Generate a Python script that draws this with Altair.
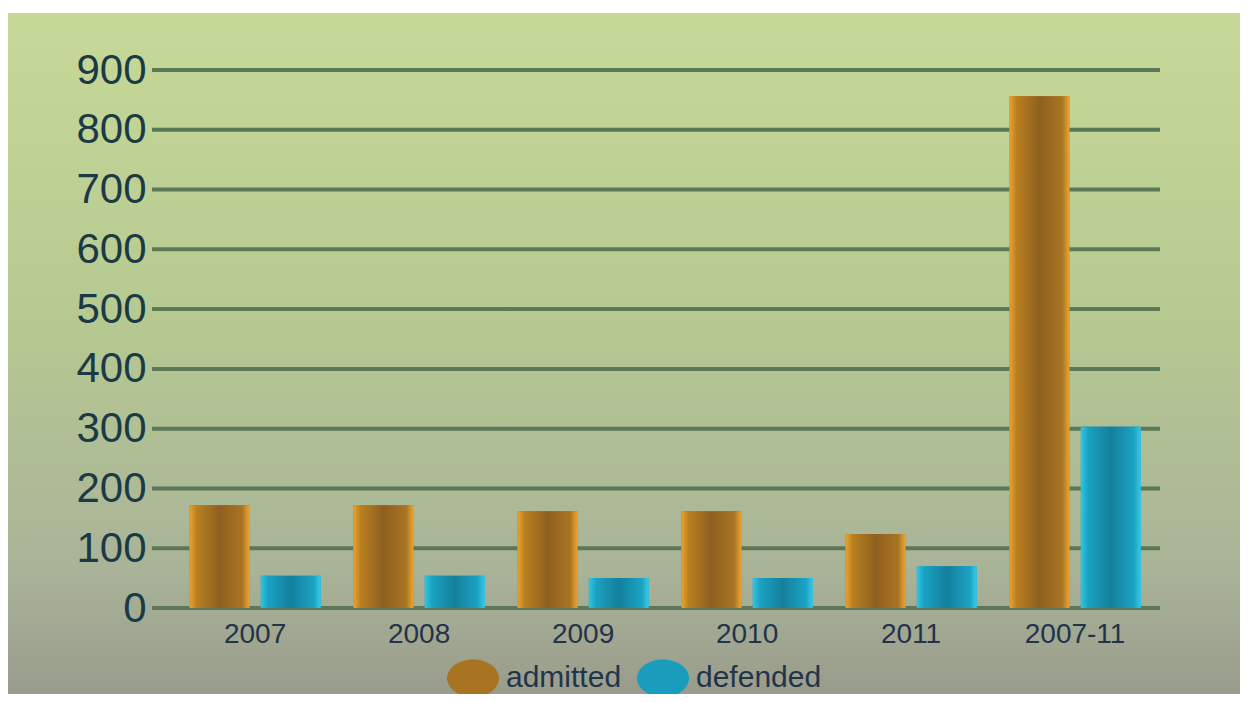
import altair as alt
import pandas as pd

years = ["2007", "2008", "2009", "2010", "2011", "2007-11"]
admitted = [172, 172, 162, 162, 124, 856]
defended = [54, 54, 50, 50, 70, 303]
series = ["admitted", "defended"]
tick_values = [0, 100, 200, 300, 400, 500, 600, 700, 800, 900]

rows = []
for y, a, d in zip(years, admitted, defended):
    rows.append({"year": y, "series": "admitted", "value": a})
    rows.append({"year": y, "series": "defended", "value": d})
df = pd.DataFrame(rows)
ticks = pd.DataFrame({"value": tick_values})

W, H = 1008, 538
PAD = {"left": 144, "top": 62, "right": 80, "bottom": 86}

yaxis = alt.Axis(values=tick_values, labelFontSize=42, labelColor="#1b3a45",
                 labelFont="Liberation Sans", domain=False, ticks=False, grid=False,
                 labelPadding=6, title=None, zindex=1)
xaxis = alt.Axis(labelFontSize=28, labelColor="#223449", labelFont="Liberation Sans",
                 domain=False, ticks=False, labelAngle=0, labelPadding=12, title=None,
                 zindex=1)

yenc = alt.Y("value:Q", scale=alt.Scale(domain=[0, 900], nice=False), axis=yaxis)
xenc = alt.X("year:N", sort=years,
             scale=alt.Scale(paddingInner=0.2, paddingOuter=0.173, align=0.66), axis=xaxis)
xoff = alt.XOffset("series:N", sort=series, scale=alt.Scale(paddingInner=0.16, paddingOuter=0))

bg_grad = alt.Gradient(
    gradient="linear", x1=0, x2=0, y1=0, y2=1,
    stops=[alt.GradientStop(color="#c7d997", offset=0),
           alt.GradientStop(color="#b6c991", offset=0.45),
           alt.GradientStop(color="#a9b398", offset=0.82),
           alt.GradientStop(color="#999c8c", offset=1)])

background = alt.Chart(alt.Data(values=[{"k": 1}])).mark_rect(fill=bg_grad).encode(
    x=alt.value(-PAD["left"]), x2=alt.value(W + PAD["right"]),
    y=alt.value(-57), y2=alt.value(H + PAD["bottom"]))

grid = alt.Chart(ticks).mark_rule(strokeWidth=4, color="#5c7957").encode(
    y=yenc, x=alt.value(0), x2=alt.value(W))

ellipse = "M-1,0A1,0.72,0,1,0,1,0A1,0.72,0,1,0,-1,0Z"

bars = alt.Chart(df).mark_bar().encode(
    x=xenc, xOffset=xoff, y=yenc,
    color=alt.Color("series:N", sort=series,
                    scale=alt.Scale(domain=series, range=["#a87422", "#1a9cbc"]),
                    legend=alt.Legend(orient="none", legendX=295, legendY=582,
                                      direction="horizontal", title=None,
                                      symbolType=ellipse, symbolSize=2704,
                                      symbolStrokeWidth=0, symbolOpacity=1,
                                      labelFontSize=30, labelColor="#223449",
                                      labelFont="Liberation Sans", labelOffset=7,
                                      columnPadding=15, padding=0, zindex=1)))

adm_grad = alt.Gradient(
    gradient="linear", x1=0, x2=1, y1=0, y2=0,
    stops=[alt.GradientStop(color="#eaa330", offset=0),
           alt.GradientStop(color="#b98020", offset=0.12),
           alt.GradientStop(color="#8e6020", offset=0.5),
           alt.GradientStop(color="#a97422", offset=0.88),
           alt.GradientStop(color="#eca634", offset=1)])
def_grad = alt.Gradient(
    gradient="linear", x1=0, x2=1, y1=0, y2=0,
    stops=[alt.GradientStop(color="#33c6e4", offset=0),
           alt.GradientStop(color="#1ba2c2", offset=0.12),
           alt.GradientStop(color="#14809c", offset=0.5),
           alt.GradientStop(color="#1ba2c2", offset=0.88),
           alt.GradientStop(color="#38c8e6", offset=1)])

adm_over = alt.Chart(df).transform_filter(alt.datum.series == "admitted").mark_bar(
    fill=adm_grad).encode(x=xenc, xOffset=xoff, y=yenc)
def_over = alt.Chart(df).transform_filter(alt.datum.series == "defended").mark_bar(
    fill=def_grad).encode(x=xenc, xOffset=xoff, y=yenc)

chart = alt.layer(background, grid, bars, adm_over, def_over).properties(
    width=W, height=H,
    autosize=alt.AutoSizeParams(type="none"),
    padding=PAD,
    background="white",
).configure_view(stroke=None)

chart.save("out.html", embed_options={"renderer": "svg", "actions": False})
